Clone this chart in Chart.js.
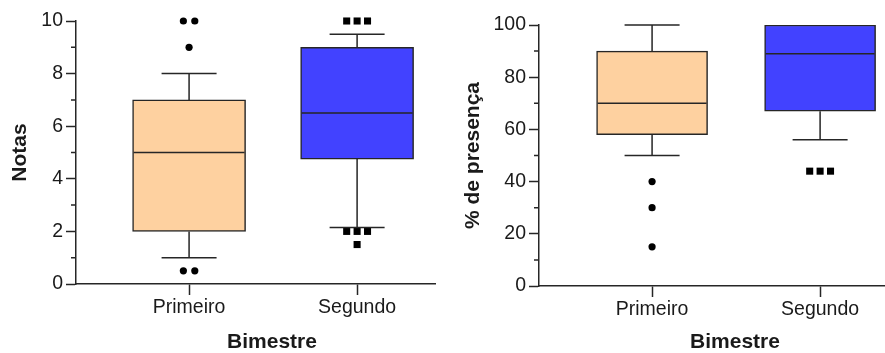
<!DOCTYPE html>
<html>
<head>
  <meta charset="utf-8">
  <title>Notas e presença por bimestre</title>
  <script src="https://cdn.jsdelivr.net/npm/chart.js"></script>
  <style>
    body { margin: 0; background: #fff; }
    #wrap { position: relative; width: 885px; height: 353px; overflow: hidden; background: #fff; }
    #left { position: absolute; left: 0; top: 0; }
    #right { position: absolute; left: 436px; top: 0; background: #fff; }
  </style>
</head>
<body>
  <div id="wrap">
    <canvas id="left" width="480" height="353"></canvas>
    <canvas id="right" width="500" height="353"></canvas>
  </div>

  <script>
    const categories = ['Primeiro', 'Segundo'];

    // Notas
    const notasQ1 = [2, 4.75];
    const notasMedian = [5, 6.5];
    const notasQ3 = [7, 9];
    const notasWhiskerLow = [1, 2.15];
    const notasWhiskerHigh = [8, 9.5];
    const notasOutliers = [[0.5, 0.5, 9, 10, 10], [10, 10, 10, 2, 2, 2, 1.5]];
    const notasTicks = [0, 2, 4, 6, 8, 10];

    // % de presença
    const presQ1 = [58, 67];
    const presMedian = [70, 89];
    const presQ3 = [90, 100];
    const presWhiskerLow = [50, 56];
    const presWhiskerHigh = [100, 100];
    const presOutliers = [[40, 30, 15], [44, 44, 44]];
    const presTicks = [0, 20, 40, 60, 80, 100];

    const boxColors = ['#FED1A0', '#4242FF'];
    const lineColor = '#262626';
    const textColor = '#1a1a1a';
    const family = "'Liberation Sans', Arial, sans-serif";

    // valores repetidos ficam lado a lado
    function dodge(values, idx, step) {
      const counts = {}, seen = {};
      values.forEach(v => counts[v] = (counts[v] || 0) + 1);
      return values.map(v => {
        seen[v] = seen[v] === undefined ? 0 : seen[v] + 1;
        return { x: idx + (seen[v] - (counts[v] - 1) / 2) * step, y: v };
      });
    }

    const boxExtras = {
      id: 'boxExtras',
      afterDatasetsDraw(chart, args, o) {
        const { ctx, scales: { x, y } } = chart;
        ctx.save();
        ctx.strokeStyle = lineColor;
        ctx.lineWidth = 1.5;
        ctx.beginPath();
        o.med.forEach((m, i) => {
          const cx = x.getPixelForValue(i);
          const half = o.boxWidth / 2 - 1, cap = o.capWidth / 2;
          ctx.moveTo(cx - half, y.getPixelForValue(m));
          ctx.lineTo(cx + half, y.getPixelForValue(m));
          if (o.hi[i] > o.q3[i]) {
            ctx.moveTo(cx, y.getPixelForValue(o.q3[i]));
            ctx.lineTo(cx, y.getPixelForValue(o.hi[i]));
            ctx.moveTo(cx - cap, y.getPixelForValue(o.hi[i]));
            ctx.lineTo(cx + cap, y.getPixelForValue(o.hi[i]));
          }
          if (o.lo[i] < o.q1[i]) {
            ctx.moveTo(cx, y.getPixelForValue(o.q1[i]));
            ctx.lineTo(cx, y.getPixelForValue(o.lo[i]));
            ctx.moveTo(cx - cap, y.getPixelForValue(o.lo[i]));
            ctx.lineTo(cx + cap, y.getPixelForValue(o.lo[i]));
          }
        });
        // marcas menores do eixo y
        y.ticks.forEach(t => {
          if (o.major.includes(t.value)) return;
          const py = y.getPixelForValue(t.value);
          ctx.moveTo(y.right - 5, py);
          ctx.lineTo(y.right, py);
        });
        ctx.stroke();
        ctx.restore();
      }
    };

    function boxChart(id, c) {
      return new Chart(document.getElementById(id), {
        type: 'bar',
        data: {
          datasets: [
            {
              type: 'bar',
              data: categories.map((cat, i) => ({ x: i, y: [c.q1[i], c.q3[i]] })),
              backgroundColor: boxColors,
              borderColor: lineColor,
              borderWidth: 1.5,
              borderSkipped: false,
              barThickness: c.boxWidth,
              grouped: false
            },
            {
              type: 'scatter',
              data: dodge(c.out[0], 0, 0.068),
              pointStyle: 'circle',
              pointRadius: 3.6,
              backgroundColor: '#000',
              borderWidth: 0,
              clip: false
            },
            {
              type: 'scatter',
              data: dodge(c.out[1], 1, 0.062),
              pointStyle: 'rect',
              pointRadius: 5,
              backgroundColor: '#000',
              borderWidth: 0,
              clip: false
            }
          ]
        },
        options: {
          responsive: false,
          animation: false,
          layout: { padding: { top: c.top, right: c.right, left: 0, bottom: 0 } },
          plugins: {
            legend: { display: false },
            tooltip: { enabled: false },
            boxExtras: {
              q1: c.q1, q3: c.q3, med: c.med, lo: c.lo, hi: c.hi,
              boxWidth: c.boxWidth, capWidth: 55, major: c.major
            }
          },
          scales: {
            x: {
              type: 'linear',
              min: -0.673,
              max: 1.66,
              offset: false,
              afterBuildTicks: s => { s.ticks = categories.map((cat, i) => ({ value: i })); },
              afterFit: s => { s.height = c.xHeight; },
              grid: { drawOnChartArea: false, offset: false, tickLength: 11, tickWidth: 1.5, tickColor: lineColor },
              border: { color: lineColor, width: 1.5 },
              ticks: {
                callback: v => categories[v],
                padding: 1,
                maxRotation: 0,
                color: textColor,
                font: { family: family, size: 19.5 }
              },
              title: {
                display: true,
                text: 'Bimestre',
                color: textColor,
                padding: { top: 0, bottom: -1.5 },
                font: { family: family, size: 21, weight: 'bold' }
              }
            },
            y: {
              min: 0,
              max: c.max,
              afterFit: s => { s.width = c.yWidth; },
              grid: {
                drawOnChartArea: false,
                tickLength: 10,
                tickWidth: 1.5,
                tickColor: ctx => c.major.includes(ctx.tick.value) ? lineColor : 'rgba(0,0,0,0)'
              },
              border: { color: lineColor, width: 1.5 },
              ticks: {
                stepSize: c.step,
                autoSkip: false,
                padding: 3,
                color: textColor,
                font: { family: family, size: 19.5 },
                callback: v => c.major.includes(v) ? v : ''
              },
              title: {
                display: true,
                text: c.title,
                color: textColor,
                padding: { top: c.titlePad, bottom: 0 },
                font: { family: family, size: 21, weight: 'bold' }
              }
            }
          }
        },
        plugins: [boxExtras]
      });
    }

    boxChart('left', {
      q1: notasQ1, q3: notasQ3, med: notasMedian, lo: notasWhiskerLow, hi: notasWhiskerHigh,
      out: notasOutliers, major: notasTicks, max: 10, step: 1, title: 'Notas',
      top: 21, right: 12, xHeight: 69, yWidth: 76, titlePad: 7.4, boxWidth: 113
    });

    boxChart('right', {
      q1: presQ1, q3: presQ3, med: presMedian, lo: presWhiskerLow, hi: presWhiskerHigh,
      out: presOutliers, major: presTicks, max: 100, step: 10, title: '% de presença',
      top: 25, right: 5, xHeight: 67, yWidth: 103, titlePad: 24.4, boxWidth: 111
    });
  </script>
</body>
</html>
